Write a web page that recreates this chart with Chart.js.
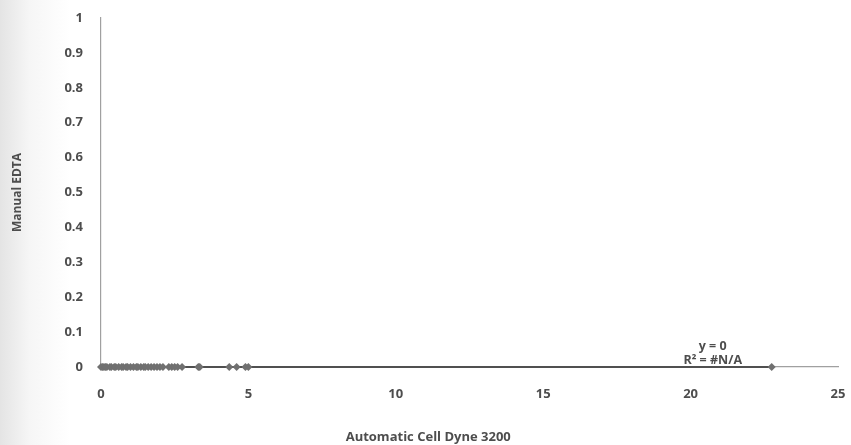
<!DOCTYPE html>
<html>
<head>
<meta charset="utf-8">
<script src="https://cdn.jsdelivr.net/npm/chart.js@4"></script>
<style>
  html, body { margin: 0; padding: 0; }
  body { width: 851px; height: 445px; background: linear-gradient(to right, #e4e4e4 0px, #f6f6f6 30px, #ffffff 70px); }
  #wrap { width: 851px; height: 445px; position: relative; }
</style>
</head>
<body>
<div id="wrap"><canvas id="scatterChart"></canvas></div>
<script>
// values (Automatic Cell Dyne 3200 vs Manual EDTA)
const automaticValues = [0, 0.05, 0.1, 0.15, 0.2, 0.3, 0.35, 0.45, 0.5, 0.6, 0.7, 0.75, 0.85, 0.9, 1.0, 1.1, 1.2, 1.25, 1.35, 1.45, 1.5, 1.6, 1.7, 1.8, 1.9, 2.0, 2.1, 2.3, 2.4, 2.5, 2.6, 2.75, 3.3, 3.35, 4.35, 4.6, 4.9, 5.0, 22.75];
const manualValues = automaticValues.map(() => 0);
const trendX = [0, 22.75];
const trendY = [0, 0];
const xTicks = [0, 5, 10, 15, 20, 25];
const yTicks = [0, 0.1, 0.2, 0.3, 0.4, 0.5, 0.6, 0.7, 0.8, 0.9, 1];
const equationText = ['y = 0', 'R\u00b2 = #N/A'];

const textColor = '#4d4d4d';
const fontFamily = '"Open Sans", "Liberation Sans", sans-serif';

const points = automaticValues.map((x, i) => ({ x: x, y: manualValues[i] }));
const trend = trendX.map((x, i) => ({ x: x, y: trendY[i] }));

const labelsPlugin = {
    id: 'labelsPlugin',
    afterDraw(chart) {
        const ctx = chart.ctx;
        const xs = chart.scales.x;
        const area = chart.chartArea;
        ctx.save();
        ctx.fillStyle = textColor;
        ctx.textAlign = 'center';
        ctx.textBaseline = 'middle';
        ctx.font = 'bold 12.5px ' + fontFamily;
        const ex = xs.getPixelForValue(20.75);
        ctx.fillText(equationText[0], ex, area.bottom - 21);
        ctx.fillText(equationText[1], ex, area.bottom - 7);
        ctx.font = 'bold 13px ' + fontFamily;
        ctx.fillText('Automatic Cell Dyne 3200', xs.getPixelForValue(11.1), 437);
        ctx.restore();
    }
};

new Chart(document.getElementById('scatterChart').getContext('2d'), {
    type: 'scatter',
    data: {
        datasets: [{
            label: 'Manual EDTA',
            data: points,
            pointStyle: 'rectRot',
            pointRadius: 4,
            backgroundColor: '#707070',
            borderColor: '#707070',
            borderWidth: 0,
            clip: false,
            order: 1
        }, {
            label: 'Trend',
            type: 'line',
            data: trend,
            borderColor: '#505050',
            borderWidth: 2,
            pointRadius: 0,
            fill: false,
            clip: false,
            order: 2
        }]
    },
    options: {
        responsive: true,
        maintainAspectRatio: false,
        animation: false,
        layout: { padding: { left: 10, right: 13, top: 18, bottom: 0 } },
        plugins: {
            legend: { display: false },
            tooltip: { enabled: false }
        },
        scales: {
            x: {
                type: 'linear',
                min: 0,
                max: 25,
                afterBuildTicks: axis => { axis.ticks = xTicks.map(v => ({ value: v })); },
                afterFit: axis => { axis.height = 78; axis.paddingRight = 0; axis.paddingLeft = 0; },
                grid: { display: false, drawTicks: true, tickLength: 4, color: '#999999' },
                border: { display: true, color: '#a0a0a0', width: 1.2 },
                ticks: { color: textColor, font: { family: fontFamily, size: 13, weight: 'bold' }, padding: 15, maxRotation: 0 }
            },
            y: {
                type: 'linear',
                min: 0,
                max: 1,
                afterBuildTicks: axis => { axis.ticks = yTicks.map(v => ({ value: v })); },
                afterFit: axis => { axis.width = 91; axis.paddingTop = 0; axis.paddingBottom = 0; },
                grid: { display: false, drawTicks: true, tickLength: 5, color: '#999999' },
                border: { display: true, color: '#a0a0a0', width: 1.2 },
                title: { display: true, text: 'Manual EDTA', color: textColor, font: { family: fontFamily, size: 12, weight: 'bold' }, padding: { top: 0, bottom: 0 } },
                ticks: {
                    color: textColor,
                    font: { family: fontFamily, size: 13, weight: 'bold' },
                    padding: 13,
                    callback: v => String(Math.round(v * 10) / 10)
                }
            }
        }
    },
    plugins: [labelsPlugin]
});
</script>
</body>
</html>
